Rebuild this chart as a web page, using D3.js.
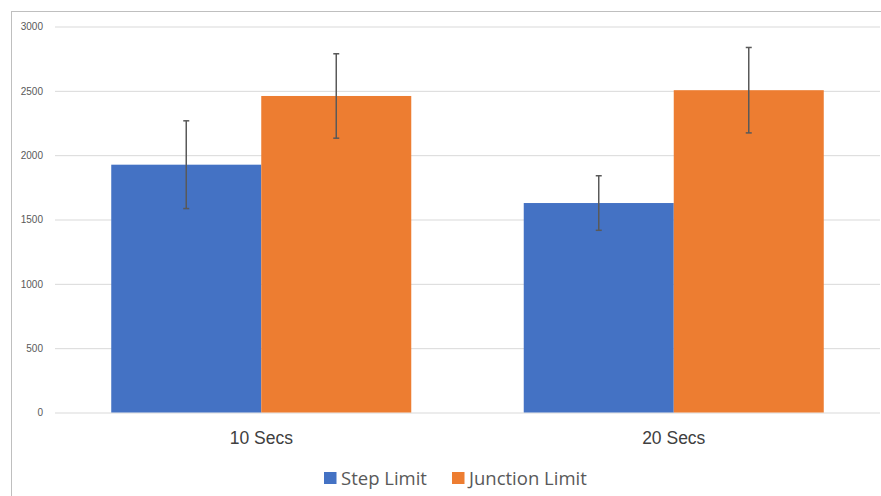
<!DOCTYPE html>
<html>
<head>
<meta charset="utf-8">
<script src="https://cdn.jsdelivr.net/npm/d3@7"></script>
<style>
  html, body { margin: 0; padding: 0; background: #fff; }
  svg { display: block; font-family: "Open Sans", "Liberation Sans", sans-serif; }
</style>
</head>
<body>
<svg id="chart" width="881" height="496"></svg>
<script>
const categories = ["10 Secs", "20 Secs"];
const seriesNames = ["Step Limit", "Junction Limit"];
const stepLimit = [1926, 1628];
const junctionLimit = [2460, 2505];
const stepError = [341, 212];
const junctionError = [328, 332];
const yTicks = [0, 500, 1000, 1500, 2000, 2500, 3000];
const colors = ["#4472C4", "#ED7D31"];

const svg = d3.select("#chart");
const W = 881, H = 496;

// chart border (left and top visible)
svg.append("rect")
  .attr("x", 11.5).attr("y", 11.5)
  .attr("width", W + 10).attr("height", H + 10)
  .attr("fill", "none").attr("stroke", "#bfbfbf").attr("stroke-width", 1);

const plotLeft = 55, plotRight = 880, plotTop = 26.5, plotBottom = 412.5;

const x0 = d3.scaleBand().domain(categories).range([plotLeft, plotRight])
  .paddingInner(0.2727).paddingOuter(0.13636);
const x1 = d3.scaleBand().domain(seriesNames).range([0, x0.bandwidth()]).padding(0);
const y = d3.scaleLinear().domain([0, 3000]).range([plotBottom, plotTop]);

// gridlines
const yAxis = d3.axisLeft(y).tickValues(yTicks).tickSize(-(plotRight - plotLeft)).tickPadding(12).tickFormat(d3.format("d"));
const gy = svg.append("g").attr("transform", `translate(${plotLeft},0)`).call(yAxis);
gy.select(".domain").remove();
gy.selectAll(".tick line").attr("stroke", "#d9d9d9").attr("stroke-width", 1);
gy.selectAll(".tick text").attr("fill", "#595959").style("font-size", "10px");

const data = categories.map((c, i) => ({
  cat: c,
  vals: [
    { s: seriesNames[0], v: stepLimit[i], e: stepError[i] },
    { s: seriesNames[1], v: junctionLimit[i], e: junctionError[i] }
  ]
}));

const groups = svg.append("g").selectAll("g").data(data).join("g")
  .attr("transform", d => `translate(${x0(d.cat)},0)`);

groups.selectAll("rect").data(d => d.vals).join("rect")
  .attr("x", d => x1(d.s))
  .attr("y", d => y(d.v))
  .attr("width", x1.bandwidth())
  .attr("height", d => y(0) - y(d.v))
  .attr("fill", (d, i) => colors[i]);

// error bars
const eb = groups.selectAll("g.err").data(d => d.vals).join("g").attr("class", "err")
  .attr("stroke", "#595959").attr("stroke-width", 1.5);
eb.append("line")
  .attr("x1", d => x1(d.s) + x1.bandwidth() / 2).attr("x2", d => x1(d.s) + x1.bandwidth() / 2)
  .attr("y1", d => y(d.v + d.e)).attr("y2", d => y(d.v - d.e));
eb.append("line")
  .attr("x1", d => x1(d.s) + x1.bandwidth() / 2 - 3).attr("x2", d => x1(d.s) + x1.bandwidth() / 2 + 3)
  .attr("y1", d => y(d.v + d.e)).attr("y2", d => y(d.v + d.e));
eb.append("line")
  .attr("x1", d => x1(d.s) + x1.bandwidth() / 2 - 3).attr("x2", d => x1(d.s) + x1.bandwidth() / 2 + 3)
  .attr("y1", d => y(d.v - d.e)).attr("y2", d => y(d.v - d.e));

// x axis labels
const xAxis = d3.axisBottom(x0).tickSize(0).tickPadding(19);
const gx = svg.append("g").attr("transform", `translate(0,${plotBottom})`).call(xAxis);
gx.select(".domain").remove();
gx.selectAll(".tick text").attr("fill", "#404040").style("font-size", "17.5px");

// legend
const legend = svg.append("g").attr("transform", "translate(324,472)");
const legX = [0, 128];
seriesNames.forEach((s, i) => {
  const g = legend.append("g").attr("transform", `translate(${legX[i]},0)`);
  g.append("rect").attr("width", 12.5).attr("height", 12).attr("fill", colors[i]);
  g.append("text").attr("x", 17).attr("y", 12.5).attr("fill", "#595959")
    .style("font-size", "18.5px").text(s);
});
</script>
</body>
</html>
